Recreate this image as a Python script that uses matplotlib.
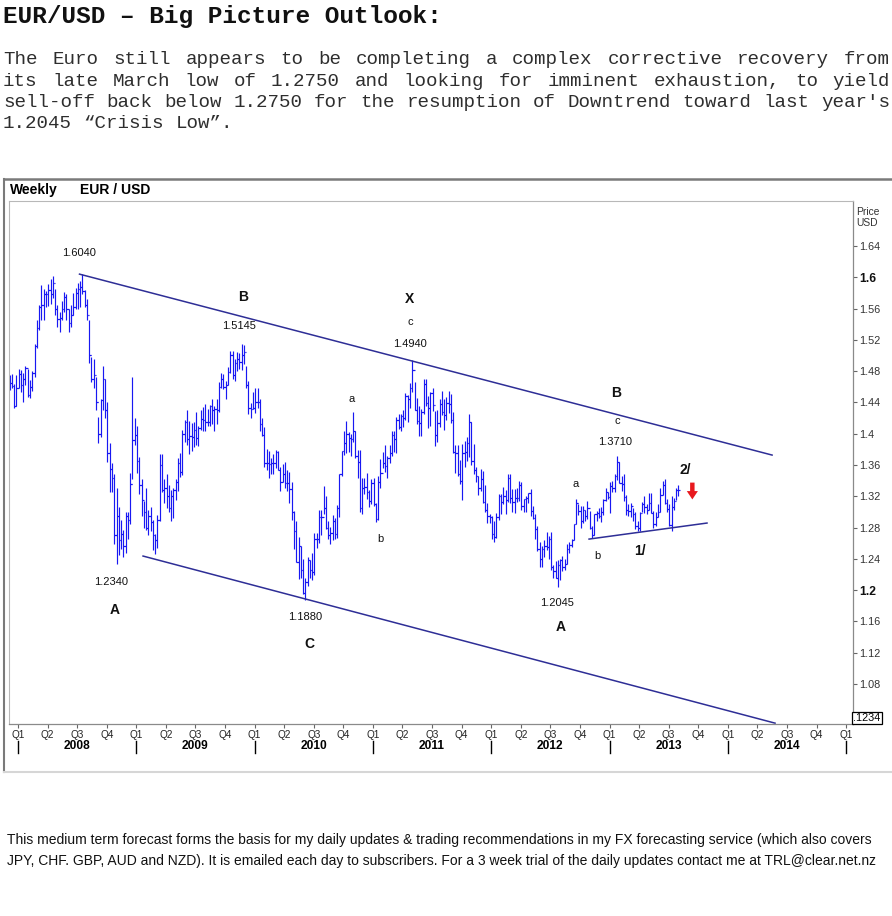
import numpy as np
import matplotlib.pyplot as plt
from matplotlib import transforms
from matplotlib.collections import LineCollection
from matplotlib.lines import Line2D

plt.rcParams['font.family'] = ['Liberation Sans', 'DejaVu Sans']

# weekly EUR/USD bars (high, low, close), 4-4-5 weeks per quarter
bars_2007 = [  # last four weeks of Dec 2007
    (1.4750, 1.4560, 1.4650), (1.4760, 1.4580, 1.4610), (1.4630, 1.4330, 1.4360), (1.4750, 1.4350, 1.4590),
]
bars_2008 = [
    (1.4830, 1.4580, 1.4760), (1.4820, 1.4530, 1.4620), (1.4780, 1.4400, 1.4700), (1.4870, 1.4620, 1.4840),
    (1.4830, 1.4470, 1.4500), (1.4690, 1.4460, 1.4600), (1.4800, 1.4550, 1.4770), (1.5150, 1.4720, 1.5120),
    (1.5460, 1.5100, 1.5350), (1.5650, 1.5330, 1.5620), (1.5905, 1.5450, 1.5650), (1.5850, 1.5450, 1.5780), (1.5820, 1.5620, 1.5780),
    (1.5910, 1.5630, 1.5840), (1.5980, 1.5660, 1.5790), (1.6020, 1.5740, 1.5930), (1.5850, 1.5520, 1.5600),
    (1.5650, 1.5360, 1.5470), (1.5560, 1.5300, 1.5480), (1.5700, 1.5450, 1.5600), (1.5810, 1.5560, 1.5750),
    (1.5780, 1.5450, 1.5590), (1.5600, 1.5300, 1.5420), (1.5650, 1.5370, 1.5520), (1.5800, 1.5520, 1.5620), (1.5860, 1.5600, 1.5800),
    (1.5930, 1.5600, 1.5850), (1.5950, 1.5620, 1.5880), (1.6040, 1.5790, 1.5830), (1.5840, 1.5620, 1.5650),
    (1.5720, 1.5460, 1.5520), (1.5450, 1.4900, 1.5000), (1.4980, 1.4660, 1.4700), (1.4950, 1.4580, 1.4750),
    (1.4730, 1.4300, 1.4400), (1.4220, 1.3880, 1.4000), (1.4450, 1.3960, 1.4430), (1.4870, 1.4300, 1.4700), (1.4700, 1.4200, 1.4300),
    (1.4400, 1.3640, 1.3750), (1.3880, 1.3260, 1.3550), (1.3620, 1.3250, 1.3440), (1.3480, 1.2590, 1.2700),
    (1.3300, 1.2330, 1.2950), (1.3060, 1.2450, 1.2640), (1.2900, 1.2530, 1.2720), (1.2770, 1.2420, 1.2570),
    (1.3000, 1.2480, 1.2950), (1.3000, 1.2660, 1.2900), (1.3500, 1.2850, 1.3360), (1.4720, 1.3420, 1.3920), (1.4200, 1.3850, 1.3980),
]
bars_2009 = [
    (1.4100, 1.3500, 1.3650), (1.3700, 1.3230, 1.3350), (1.3420, 1.2950, 1.3150), (1.3140, 1.2800, 1.3000),
    (1.3300, 1.2770, 1.2800), (1.3020, 1.2700, 1.2950), (1.3060, 1.2760, 1.2870), (1.2900, 1.2510, 1.2700),
    (1.2720, 1.2460, 1.2640), (1.2960, 1.2540, 1.2900), (1.3740, 1.2880, 1.3600), (1.3740, 1.3250, 1.3280), (1.3420, 1.3110, 1.3300),
    (1.3480, 1.3050, 1.3200), (1.3350, 1.3000, 1.3050), (1.3280, 1.2890, 1.3200), (1.3300, 1.2920, 1.3280),
    (1.3420, 1.3150, 1.3380), (1.3690, 1.3270, 1.3620), (1.3750, 1.3450, 1.3510), (1.4050, 1.3470, 1.4000),
    (1.4180, 1.3900, 1.4150), (1.4300, 1.3860, 1.3930), (1.4160, 1.3740, 1.3970), (1.4140, 1.3780, 1.3960), (1.4150, 1.3830, 1.4050),
    (1.4280, 1.3850, 1.3940), (1.4100, 1.3840, 1.4070), (1.4300, 1.4050, 1.4190), (1.4340, 1.4040, 1.4180),
    (1.4380, 1.4030, 1.4150), (1.4320, 1.4100, 1.4150), (1.4370, 1.4100, 1.4350), (1.4440, 1.4120, 1.4300),
    (1.4350, 1.4030, 1.4310), (1.4440, 1.4130, 1.4300), (1.4660, 1.4280, 1.4600), (1.4770, 1.4580, 1.4700), (1.4760, 1.4570, 1.4600),
    (1.4680, 1.4450, 1.4620), (1.4850, 1.4620, 1.4790), (1.5060, 1.4770, 1.5000), (1.5060, 1.4700, 1.4750),
    (1.4950, 1.4670, 1.4900), (1.5040, 1.4800, 1.4960), (1.5030, 1.4830, 1.4920), (1.5145, 1.4820, 1.5010),
    (1.5140, 1.4890, 1.5050), (1.4860, 1.4580, 1.4620), (1.4680, 1.4250, 1.4330), (1.4390, 1.4200, 1.4320), (1.4530, 1.4320, 1.4330),
]
bars_2010 = [
    (1.4580, 1.4260, 1.4410), (1.4580, 1.4330, 1.4400), (1.4450, 1.4030, 1.4130), (1.4200, 1.3970, 1.3980),
    (1.4080, 1.3580, 1.3630), (1.3800, 1.3530, 1.3620), (1.3780, 1.3440, 1.3610), (1.3690, 1.3480, 1.3630),
    (1.3740, 1.3480, 1.3630), (1.3790, 1.3560, 1.3760), (1.3780, 1.3530, 1.3530), (1.3570, 1.3270, 1.3380), (1.3610, 1.3380, 1.3480),
    (1.3640, 1.3310, 1.3370), (1.3530, 1.3270, 1.3370), (1.3510, 1.3110, 1.3290), (1.3380, 1.2900, 1.3000),
    (1.3010, 1.2520, 1.2750), (1.2880, 1.2360, 1.2360), (1.2680, 1.2140, 1.2560), (1.2570, 1.2150, 1.2260),
    (1.2400, 1.1950, 1.1970), (1.2160, 1.1880, 1.2110), (1.2430, 1.2050, 1.2390), (1.2390, 1.2150, 1.2260), (1.2470, 1.2130, 1.2230),
    (1.2730, 1.2200, 1.2660), (1.2730, 1.2540, 1.2650), (1.3030, 1.2600, 1.2940), (1.3020, 1.2710, 1.2930),
    (1.3330, 1.2970, 1.3050), (1.3210, 1.2780, 1.2800), (1.2880, 1.2660, 1.2710), (1.2810, 1.2590, 1.2730),
    (1.2960, 1.2640, 1.2890), (1.2920, 1.2660, 1.2720), (1.3090, 1.2670, 1.3050), (1.3480, 1.2940, 1.3490), (1.3780, 1.3460, 1.3780),
    (1.4030, 1.3730, 1.3880), (1.4160, 1.3750, 1.4000), (1.4020, 1.3760, 1.3950), (1.4000, 1.3720, 1.3930),
    (1.4280, 1.3900, 1.4030), (1.4030, 1.3690, 1.3720), (1.3790, 1.3440, 1.3640), (1.3790, 1.3000, 1.3050),
    (1.3440, 1.2970, 1.3300), (1.3440, 1.3230, 1.3320), (1.3500, 1.3170, 1.3260), (1.3280, 1.3060, 1.3140), (1.3420, 1.3100, 1.3370),
]
bars_2011 = [
    (1.3440, 1.3080, 1.3100), (1.3110, 1.2870, 1.2910), (1.3460, 1.2900, 1.3380), (1.3680, 1.3310, 1.3500),
    (1.3760, 1.3560, 1.3620), (1.3860, 1.3510, 1.3590), (1.3710, 1.3440, 1.3690), (1.3860, 1.3620, 1.3750),
    (1.4030, 1.3720, 1.3980), (1.4030, 1.3770, 1.3930), (1.4210, 1.3750, 1.4180), (1.4250, 1.4060, 1.4090), (1.4250, 1.4030, 1.4230),
    (1.4300, 1.4080, 1.4200), (1.4520, 1.4180, 1.4480), (1.4490, 1.4150, 1.4440), (1.4650, 1.4330, 1.4590),
    (1.4940, 1.4530, 1.4810), (1.4660, 1.4300, 1.4300), (1.4460, 1.4130, 1.4160), (1.4350, 1.3970, 1.4140),
    (1.4310, 1.3970, 1.4280), (1.4700, 1.4250, 1.4640), (1.4700, 1.4350, 1.4390), (1.4480, 1.4070, 1.4330), (1.4530, 1.4100, 1.4520),
    (1.4580, 1.4290, 1.4370), (1.4290, 1.3840, 1.3980), (1.4300, 1.3900, 1.4140), (1.4440, 1.4090, 1.4380),
    (1.4540, 1.4240, 1.4280), (1.4440, 1.4050, 1.4240), (1.4470, 1.4180, 1.4390), (1.4540, 1.4260, 1.4380),
    (1.4510, 1.4140, 1.4170), (1.4280, 1.3750, 1.3760), (1.3850, 1.3500, 1.3750), (1.3850, 1.3460, 1.3480), (1.3660, 1.3360, 1.3400),
    (1.3870, 1.3150, 1.3750), (1.3910, 1.3570, 1.3770), (1.3960, 1.3650, 1.3880), (1.4250, 1.3700, 1.4150),
    (1.4150, 1.3600, 1.3650), (1.3870, 1.3490, 1.3530), (1.3570, 1.3380, 1.3460), (1.3460, 1.3220, 1.3310),
    (1.3550, 1.3270, 1.3420), (1.3520, 1.3120, 1.3130), (1.3340, 1.3000, 1.3030), (1.3120, 1.2860, 1.2950), (1.2980, 1.2860, 1.2940),
]
bars_2012 = [
    (1.2950, 1.2660, 1.2720), (1.2880, 1.2620, 1.2680), (1.2990, 1.2670, 1.2930), (1.3230, 1.2900, 1.3210),
    (1.3230, 1.2980, 1.3130), (1.3320, 1.3100, 1.3200), (1.3280, 1.2970, 1.3150), (1.3490, 1.3130, 1.3440),
    (1.3490, 1.3120, 1.3180), (1.3290, 1.3000, 1.3130), (1.3290, 1.2990, 1.3180), (1.3310, 1.3130, 1.3180), (1.3390, 1.3140, 1.3340),
    (1.3380, 1.3030, 1.3070), (1.3170, 1.3000, 1.3160), (1.3210, 1.3000, 1.3180), (1.3240, 1.3110, 1.3240),
    (1.3290, 1.2950, 1.3010), (1.3070, 1.2910, 1.2920), (1.2970, 1.2650, 1.2780), (1.2820, 1.2500, 1.2530),
    (1.2620, 1.2290, 1.2400), (1.2560, 1.2290, 1.2520), (1.2640, 1.2420, 1.2570), (1.2740, 1.2510, 1.2550), (1.2690, 1.2400, 1.2660),
    (1.2740, 1.2260, 1.2290), (1.2320, 1.2160, 1.2240), (1.2370, 1.2150, 1.2160), (1.2380, 1.2042, 1.2320),
    (1.2400, 1.2130, 1.2380), (1.2440, 1.2240, 1.2290), (1.2400, 1.2260, 1.2330), (1.2590, 1.2330, 1.2520),
    (1.2620, 1.2480, 1.2580), (1.2660, 1.2550, 1.2640), (1.2850, 1.2640, 1.2840), (1.3170, 1.2840, 1.3120), (1.3100, 1.2960, 1.3010),
    (1.3070, 1.2800, 1.2890), (1.3080, 1.2860, 1.3020), (1.3030, 1.2880, 1.2950), (1.3140, 1.2910, 1.3050),
    (1.3010, 1.2780, 1.2800), (1.2820, 1.2661, 1.2710), (1.2980, 1.2700, 1.2970), (1.3010, 1.2880, 1.2990),
    (1.3050, 1.2920, 1.2950), (1.3060, 1.2870, 1.3000), (1.3170, 1.2960, 1.3150), (1.3300, 1.3140, 1.3250), (1.3260, 1.3160, 1.3190),
]
bars_2013 = [
    (1.3380, 1.2990, 1.3330), (1.3400, 1.3250, 1.3310), (1.3480, 1.3250, 1.3460), (1.3710, 1.3410, 1.3640),
    (1.3640, 1.3370, 1.3370), (1.3460, 1.3270, 1.3360), (1.3480, 1.3140, 1.3190), (1.3220, 1.2960, 1.3020),
    (1.3100, 1.2950, 1.3010), (1.3110, 1.2930, 1.3070), (1.3050, 1.2880, 1.2980), (1.3000, 1.2780, 1.2820), (1.2890, 1.2760, 1.2800),
    (1.3000, 1.2750, 1.2990), (1.3130, 1.3000, 1.3100), (1.3200, 1.2990, 1.3060), (1.3100, 1.2970, 1.3030),
    (1.3240, 1.3030, 1.3120), (1.3240, 1.2990, 1.2990), (1.3010, 1.2800, 1.2840), (1.3000, 1.2820, 1.2940),
    (1.3100, 1.2930, 1.3000), (1.3300, 1.3000, 1.3220), (1.3390, 1.3220, 1.3340), (1.3420, 1.3100, 1.3120), (1.3170, 1.3000, 1.3040),
    (1.3100, 1.2820, 1.2830), (1.3210, 1.2755, 1.3060), (1.3180, 1.3030, 1.3140), (1.3300, 1.3150, 1.3280), (1.3345, 1.3200, 1.3280),
]
bar_years = [2007, 2008, 2009, 2010, 2011, 2012, 2013]
bar_lists = [bars_2007, bars_2008, bars_2009, bars_2010, bars_2011, bars_2012, bars_2013]
first_week = [48, 0, 0, 0, 0, 0, 0]

# trend channel (start year, start price, end year, end price)
upper_line = (2008.52, 1.6040, 2014.374, 1.3727)
lower_line = (2009.057, 1.2436, 2014.399, 1.0300)
base_line = (2012.827, 1.2653, 2013.824, 1.2858)

# wave labels (text, year, price, bold)
wave_labels = [
    ("1.6040", 2008.52, 1.6310, False), ("B", 2009.90, 1.5748, True),
    ("1.5145", 2009.87, 1.5377, False), ("X", 2011.31, 1.5722, True),
    ("c", 2011.32, 1.5428, False), ("1.4940", 2011.31, 1.5147, False),
    ("a", 2010.82, 1.4443, False), ("b", 2011.06, 1.2653, False),
    ("B", 2013.06, 1.4520, True), ("c", 2013.07, 1.4162, False),
    ("1.3710", 2013.05, 1.3894, False), ("2/", 2013.64, 1.3536, True),
    ("a", 2012.71, 1.3357, False), ("b", 2012.90, 1.2436, False),
    ("1/", 2013.26, 1.2500, True), ("1.2340", 2008.79, 1.2103, False),
    ("A", 2008.82, 1.1745, True), ("1.1880", 2010.43, 1.1656, False),
    ("C", 2010.46, 1.1311, True), ("1.2045", 2012.56, 1.1835, False),
    ("A", 2012.59, 1.1528, True),
]
signal_arrow = (2013.70, 1.3375, 1.3160)  # year, from price, to price
last_box_price = 1.0364

price_ticks = [1.08, 1.12, 1.16, 1.2, 1.24, 1.28, 1.32, 1.36, 1.40, 1.44, 1.48, 1.52, 1.56, 1.6, 1.64]
year_labels = [2008, 2009, 2010, 2011, 2012, 2013, 2014]

title = "EUR/USD – Big Picture Outlook:"
body_lines = [
    "The Euro still appears to be completing a complex corrective recovery from",
    "its late March low of 1.2750 and looking for imminent exhaustion, to yield",
    "sell-off back below 1.2750 for the resumption of Downtrend toward last year's",
    "1.2045 “Crisis Low”.",
]
footer_lines = [
    "This medium term forecast forms the basis for my daily updates & trading recommendations in my FX forecasting service (which also covers",
    "JPY, CHF. GBP, AUD and NZD). It is emailed each day to subscribers. For a 3 week trial of the daily updates contact me at TRL@clear.net.nz",
]

W, H = 892, 916
fig = plt.figure(figsize=(W / 100, H / 100), dpi=100)


def fx(px):
    return px / W


def fy(py):
    return 1 - py / H


# ---- text header (courier, justified) ----
fig.text(fx(3), fy(17), title, family='Liberation Mono', weight='bold',
         fontsize=17.6, va='center', ha='left', color='#111111')

pitch = 11.5
body_size = pitch / 0.6 * 0.72
right_edge = 890
for i, line in enumerate(body_lines):
    y = fy(60 + i * 21.3)
    words = line.split(' ')
    if i < 3:
        extra = (right_edge - 3 - len(line) * pitch) / (len(words) - 1)
    else:
        extra = 0
    pos = 0
    for k, word in enumerate(words):
        x = 3 + pos * pitch + k * extra
        fig.text(fx(x), y, word, family='Liberation Mono', fontsize=body_size,
                 va='center', ha='left', color='#2e2e2e')
        pos += len(word) + 1

# ---- chart frame ----
fig.add_artist(Line2D([fx(4), 1], [fy(179), fy(179)], color='#7a7a7a', lw=1.8))
fig.add_artist(Line2D([fx(4), fx(4)], [fy(179), fy(772)], color='#7a7a7a', lw=1.5))
fig.add_artist(Line2D([fx(4), 1], [fy(772), fy(772)], color='#d6d6d6', lw=1.5))
fig.text(fx(10), fy(190), "Weekly", weight='bold', fontsize=10, va='center', ha='left')
fig.text(fx(80), fy(190), "EUR / USD", weight='bold', fontsize=10, va='center', ha='left')

ax = fig.add_axes([fx(9), fy(724), (853 - 9) / W, (724 - 201) / H])
ax.set_xlim(2007.924, 2015.058)
ax.set_ylim(1.0289, 1.6975)
for side in ['left', 'top']:
    ax.spines[side].set_color('#b8b8b8')
    ax.spines[side].set_linewidth(0.8)
for side in ['right', 'bottom']:
    ax.spines[side].set_color('#8a8a8a')
    ax.spines[side].set_linewidth(0.9)

# ---- weekly bars ----
segs = []
prev_close = None
tick = 1.5 / 118.3
for yr, start, bars in zip(bar_years, first_week, bar_lists):
    for k, (hi, lo, cl) in enumerate(bars):
        x = yr + (start + k + 0.3) / 52
        segs.append([(x, lo), (x, hi)])
        op = prev_close if prev_close is not None else cl
        segs.append([(x - tick, op), (x, op)])
        segs.append([(x, cl), (x + tick, cl)])
        prev_close = cl
ax.add_collection(LineCollection(segs, colors='#1818f2', linewidths=0.85))

# ---- channel lines ----
for x0, y0, x1, y1 in [upper_line, lower_line, base_line]:
    ax.plot([x0, x1], [y0, y1], color='#2e2e96', lw=1.1)

# ---- wave labels ----
for txt, x, y, bold in wave_labels:
    ax.text(x, y, txt, ha='center', va='center', color='#111111',
            fontsize=10 if bold else 8, weight='bold' if bold else 'normal')

ax.annotate('', xy=(signal_arrow[0], signal_arrow[2]), xytext=(signal_arrow[0], signal_arrow[1]),
            arrowprops=dict(arrowstyle='simple,head_width=0.8,head_length=0.6,tail_width=0.32',
                            color='#e8191e', lw=0, shrinkA=0, shrinkB=0))

# ---- price axis (right) ----
ax.yaxis.tick_right()
ax.set_yticks(price_ticks)
ax.set_yticklabels([('%.2f' % v).rstrip('0') for v in price_ticks])
ax.tick_params(axis='y', direction='out', length=3, width=0.8, color='#666666',
               labelsize=7.8, pad=1.5, labelcolor='#333333')
for lab in ax.get_yticklabels():
    if lab.get_text() in ('1.6', '1.2'):
        lab.set_fontweight('bold')
        lab.set_fontsize(8.7)
        lab.set_color('#111111')
ax.text(1.004, 0.988, "Price\nUSD", transform=ax.transAxes, fontsize=7.4, va='top',
        ha='left', color='#333333', linespacing=1.15)
box_tr = transforms.blended_transform_factory(ax.transAxes, ax.transData)
ax.text(1.0, last_box_price, ".1234", transform=box_tr, fontsize=7.8, va='center', ha='left',
        bbox=dict(boxstyle='square,pad=0.12', fc='white', ec='black', lw=0.9))

# ---- time axis ----
quarters = [2008 + q * 0.25 for q in range(29)]
ax.set_xticks(quarters)
ax.set_xticklabels(['Q%d' % (q % 4 + 1) for q in range(29)])
ax.tick_params(axis='x', direction='out', length=3, width=0.8, color='#666666',
               labelsize=7.2, pad=1.5, labelcolor='#222222')
yr_tr = transforms.blended_transform_factory(ax.transData, ax.transAxes)
for yr in year_labels:
    ax.text(yr + 0.5, -0.0425, str(yr), transform=yr_tr, ha='center', va='center',
            fontsize=8.6, weight='bold')
for yr in year_labels + [2015]:
    ax.plot([yr, yr], [-0.033, -0.056], transform=yr_tr, color='black', lw=1.0, clip_on=False)

# ---- footer ----
renderer = fig.canvas.get_renderer()
foot = [fig.text(fx(7), fy(840 + i * 21), line, fontsize=10, va='center', ha='left',
                 color='#111111') for i, line in enumerate(footer_lines)]
width = foot[0].get_window_extent(renderer).width
for t in foot:
    t.set_fontsize(10 * 866 / width)

fig.savefig('out.png', dpi=100)
